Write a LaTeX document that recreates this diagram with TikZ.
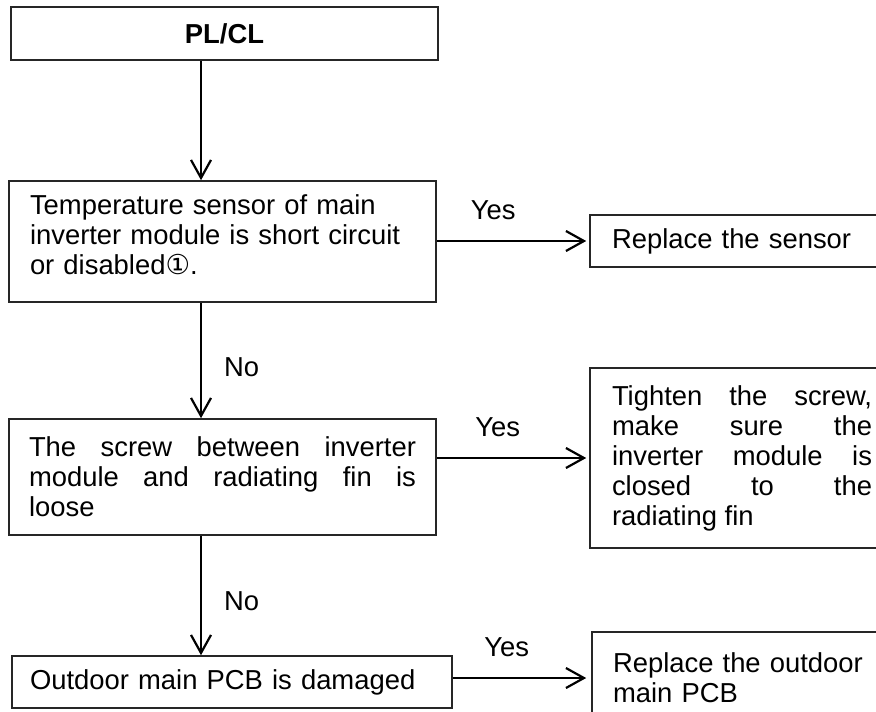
\documentclass[tikz,border=0pt]{standalone}
\usepackage{fontspec}
\setmainfont{Liberation Sans}
\newfontfamily\circfont{DejaVu Sans}
\usetikzlibrary{arrows.meta,positioning}

\begin{document}
\begin{tikzpicture}[
  x=1pt, y=1pt,
  font=\fontsize{13.7}{15}\selectfont,
  box/.style={draw=black!85, line width=0.8pt, inner xsep=10.5pt, inner ysep=0pt, align=left},
  lbl/.style={inner sep=0pt},
  arr/.style={-{Straight Barb[length=9pt,width=10pt]}, line width=1.1pt}
]
  \useasboundingbox (0,0) rectangle (438,-355.5);
  \coordinate (lane) at (100.5,0);

  % left column
  \node[box, align=center, minimum width=213.5pt, minimum height=26.5pt] (start) at (112.25,-16.75) {\textbf{PL/CL}};
  \node[box, minimum width=213.5pt, minimum height=60.5pt, text width=192.5pt] (q1) at (111.25,-120.75)
    {Temperature sensor of main\\ inverter module is short circuit\\ or disabled{\circfont ①}.\rule[-6.5pt]{0pt}{0pt}};
  \node[box, align=justify, inner xsep=10pt, minimum width=213.5pt, minimum height=58pt, text width=193.5pt] (q2) at (111.25,-238.5)
    {The screw between inverter\linebreak module and radiating fin is\linebreak loose};
  \node[box, inner xsep=9pt, minimum width=220pt, minimum height=26pt, text width=202pt] (q3) at (116,-341)
    {Outdoor main PCB is damaged};

  % right column
  \node[box, inner xsep=11pt, minimum width=155pt, minimum height=26pt, text width=133pt] (r1) at (372.5,-120.5)
    {Replace the sensor};
  \node[box, align=justify, inner xsep=11pt, minimum width=152pt, minimum height=90pt, text width=130pt] (r2) at (371,-229)
    {Tighten the screw,\linebreak make sure the\linebreak inverter module is\linebreak closed to the\linebreak radiating fin};
  \node[box, minimum width=154pt, minimum height=46pt, text width=133pt] (r3) at (373,-339)
    {Replace the outdoor\\ main PCB};

  \draw[arr] (start.south -| lane) -- (q1.north -| lane);
  \draw[arr] (q1.south -| lane) -- node[lbl, pos=0.56, right=11pt] (no1) {No} (q2.north -| lane);
  \draw[arr] (q2.south -| lane) -- node[lbl, pos=0.55, right=11pt] (no2) {No} (q3.north -| lane);
  \draw[arr, shorten >=1.5pt] (q1.east |- r1.west) -- node[lbl, pos=0.37, above=10pt] (yes1) {Yes} (r1.west);
  \draw[arr, shorten >=1.5pt] (q2.east |- r2.west) -- node[lbl, pos=0.40, above=10pt] (yes2) {Yes} (r2.west);
  \draw[arr, shorten >=2.5pt] (q3.east |- r3.west) -- node[lbl, pos=0.39, above=10pt] (yes3) {Yes} (r3.west);
\end{tikzpicture}
\end{document}
